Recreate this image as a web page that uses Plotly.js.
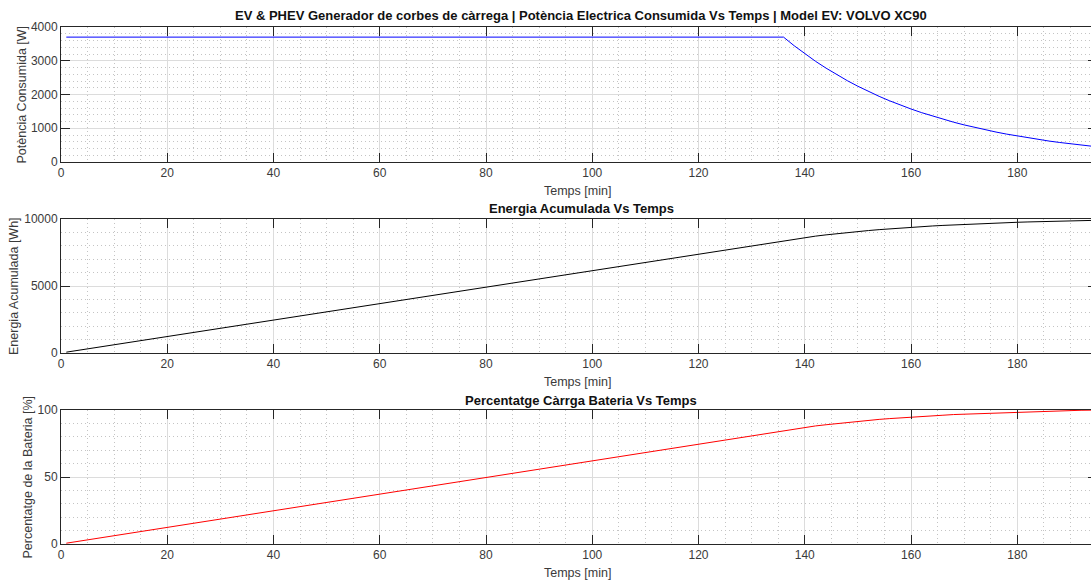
<!DOCTYPE html>
<html>
<head>
<meta charset="utf-8">
<script src="https://cdn.plot.ly/plotly-3.0.1.min.js"></script>
<style>
html,body{margin:0;padding:0;overflow:hidden;background:#fff;}
#chart{width:1100px;height:581px;}
</style>
</head>
<body>
<div id="chart"></div>
<script>
// Time [min]
const temps = [1, 20, 40, 60, 80, 100, 120, 136, 138, 140, 142, 144, 146, 148, 150, 152, 154, 156, 158, 160,
  162, 164, 166, 168, 170, 172, 174, 176, 178, 180, 182, 184, 186, 188, 190, 192, 194, 195];
// Consumed power [W]
const potencia = [3700, 3700, 3700, 3700, 3700, 3700, 3700, 3700, 3445, 3208, 2986, 2781, 2589, 2410, 2244, 2089, 1945, 1811,
  1686, 1570, 1462, 1361, 1267, 1180, 1099, 1023, 952, 887, 826, 769, 716, 666, 620, 578, 538, 501, 466, 450];
// Accumulated energy [Wh]
const energia = [62, 1233, 2467, 3700, 4933, 6167, 7400, 8387, 8506, 8617, 8720, 8816, 8906, 8989, 9067, 9139, 9206, 9269,
  9327, 9381, 9432, 9479, 9522, 9563, 9601, 9636, 9669, 9700, 9729, 9755, 9780, 9803, 9824, 9844, 9863, 9880, 9896, 9904];
// Battery percentage [%]
const percentatge = [0.6, 12.45, 24.9, 37.4, 49.8, 62.3, 74.7, 84.7, 85.9, 87.0, 88.1, 89.0, 89.9, 90.8, 91.5, 92.3, 93.0, 93.6,
  94.2, 94.7, 95.2, 95.7, 96.1, 96.6, 96.9, 97.3, 97.6, 97.9, 98.2, 98.5, 98.8, 99.0, 99.2, 99.4, 99.6, 99.8, 99.9, 100];

const xTicks = [0, 20, 40, 60, 80, 100, 120, 140, 160, 180];
const yTicks1 = [0, 1000, 2000, 3000, 4000];
const yTicks2 = [0, 5000, 10000];
const yTicks3 = [0, 50, 100];

const titles = [
  'EV & PHEV Generador de corbes de càrrega | Potència Electrica Consumida Vs Temps | Model EV: VOLVO XC90',
  'Energia Acumulada Vs Temps',
  'Percentatge Càrrga Bateria Vs Temps'
];
const yTitles = ['Potència Consumida [W]', 'Energia Acumulada [Wh]', 'Percentatge de la Bateria [%]'];
const xTitle = 'Temps [min]';

const H = 581;
const FONT = 'Liberation Sans, Arial, Helvetica, sans-serif';
const axisColor = '#262626';
const textColor = '#3a3a3a';

function xaxis(anchor) {
  return {
    anchor: anchor, range: [0, 195], tickvals: xTicks, ticktext: xTicks.map(String),
    ticks: 'inside', ticklen: 9, tickcolor: axisColor, tickwidth: 1,
    showline: true, linecolor: axisColor, linewidth: 1, mirror: 'ticks',
    showgrid: true, gridcolor: '#dcdcdc', gridwidth: 1, zeroline: false,
    minor: {dtick: 5, tick0: 0, showgrid: true, gridcolor: '#c4c4c4', griddash: '1px,3px', gridwidth: 1, ticks: ''},
    tickfont: {family: FONT, size: 12, color: textColor}, fixedrange: true
  };
}
function yaxis(anchor, dom, rng, tv, minorStep) {
  return {
    anchor: anchor, domain: dom, range: rng, tickvals: tv, ticktext: tv.map(String),
    ticks: 'inside', ticklen: 9, tickcolor: axisColor, tickwidth: 1,
    showline: true, linecolor: axisColor, linewidth: 1, mirror: 'ticks',
    showgrid: true, gridcolor: '#dcdcdc', gridwidth: 1, zeroline: false,
    minor: {dtick: minorStep, tick0: 0, showgrid: true, gridcolor: '#c4c4c4', griddash: '1px,3px', gridwidth: 1, ticks: ''},
    tickfont: {family: FONT, size: 12, color: textColor}, fixedrange: true
  };
}
function py(p) { return 1 - p / H; }

const panels = [{top: 27, bot: 162}, {top: 219, bot: 353}, {top: 410, bot: 544}];

const traces = [
  {x: temps, y: potencia, type: 'scatter', mode: 'lines', line: {color: '#0000ff', width: 1}, xaxis: 'x', yaxis: 'y', hoverinfo: 'x+y'},
  {x: temps, y: energia, type: 'scatter', mode: 'lines', line: {color: '#000000', width: 1}, xaxis: 'x2', yaxis: 'y2', hoverinfo: 'x+y'},
  {x: temps, y: percentatge, type: 'scatter', mode: 'lines', line: {color: '#ff0000', width: 1}, xaxis: 'x3', yaxis: 'y3', hoverinfo: 'x+y'}
];

const annotations = [];
const titleY = [15, 209, 400];
const xTitleY = [191, 382, 573];
const yTitleX = [21, 14, 27.5];
for (let i = 0; i < 3; i++) {
  annotations.push({text: '<b>' + titles[i] + '</b>', xref: 'paper', yref: 'paper', x: 0.5, xshift: 2, y: py(titleY[i]),
    xanchor: 'center', yanchor: 'middle', showarrow: false, font: {family: FONT, size: 13, color: '#111'}});
  annotations.push({text: xTitle, xref: 'paper', yref: 'paper', x: 0.5, xshift: -2, y: py(xTitleY[i]),
    xanchor: 'center', yanchor: 'middle', showarrow: false, font: {family: FONT, size: 12.5, color: textColor}});
  annotations.push({text: yTitles[i], xref: 'paper', yref: 'paper', x: 0, xshift: yTitleX[i] - 61,
    y: py((panels[i].top + panels[i].bot) / 2), xanchor: 'center', yanchor: 'middle', textangle: -90,
    showarrow: false, font: {family: FONT, size: 12.5, color: textColor}});
}

const layout = {
  width: 1100, height: 581,
  margin: {l: 61, r: 3, t: 0, b: 0, pad: 0},
  paper_bgcolor: '#fff', plot_bgcolor: '#fff',
  showlegend: false,
  xaxis: xaxis('y'), xaxis2: xaxis('y2'), xaxis3: xaxis('y3'),
  yaxis: yaxis('x', [py(panels[0].bot), py(panels[0].top)], [0, 4000], yTicks1, 200),
  yaxis2: yaxis('x2', [py(panels[1].bot), py(panels[1].top)], [0, 10000], yTicks2, 1000),
  yaxis3: yaxis('x3', [py(panels[2].bot), py(panels[2].top)], [0, 100], yTicks3, 10),
  annotations: annotations,
  font: {family: FONT}
};

Plotly.newPlot('chart', traces, layout, {displayModeBar: false, staticPlot: true});
</script>
</body>
</html>
